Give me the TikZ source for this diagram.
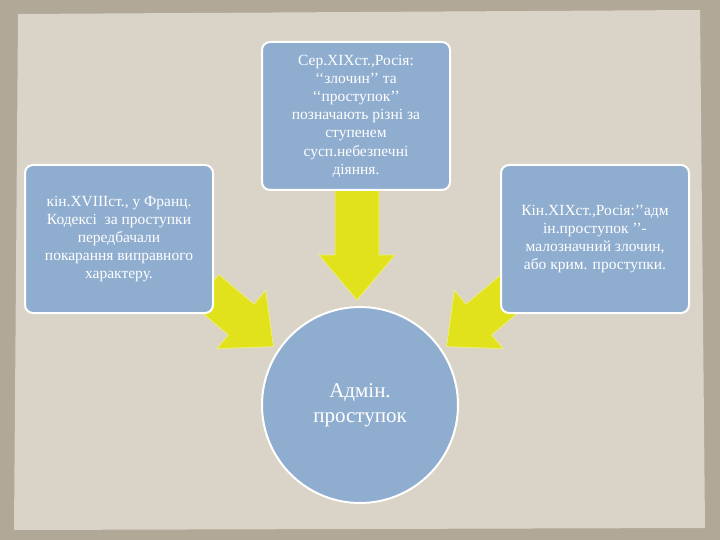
\documentclass[tikz,border=0pt]{standalone}
\usepackage{fontspec}
\setmainfont{Liberation Serif}
\begin{document}
\begin{tikzpicture}[x=1pt,y=-1pt,
  box/.style={draw=white,line width=2pt,fill=boxblue,rounded corners=8pt,minimum width=188pt,minimum height=148pt,align=center,text=white,font=\fontsize{15.5}{18.2}\selectfont,inner sep=2pt},
  yarrow/.style={fill=arrowyellow,draw=arrowyellow!60!white,line width=0.8pt}]
\definecolor{boxblue}{HTML}{8FADCF}
\definecolor{arrowyellow}{HTML}{E1E11C}
\useasboundingbox (0,0) rectangle (720,540);
\fill[color={rgb,255:red,178;green,168;blue,152}] (0,0) rectangle (720,540);
\fill[color={rgb,255:red,218;green,212;blue,200}] (18,14) -- (700,10) -- (705,528) -- (14,530) -- cycle;
\begin{scope}[shift={(357,188)},rotate=-90]
\filldraw[yarrow] (0,-22) -- (67,-22) -- (67,-38) -- (112,0) -- (67,38) -- (67,22) -- (0,22) -- cycle;
\end{scope}
\begin{scope}[shift={(206,290)},rotate=-40]
\filldraw[yarrow] (0,-20) -- (46,-20) -- (46,-38) -- (88,0) -- (46,38) -- (46,20) -- (0,20) -- cycle;
\end{scope}
\begin{scope}[shift={(514,290)},rotate=-140]
\filldraw[yarrow] (0,-20) -- (46,-20) -- (46,-38) -- (88,0) -- (46,38) -- (46,20) -- (0,20) -- cycle;
\end{scope}
\node[box] (top) at (356,116) {Сер.ХІХст.,Росія:\\‘‘злочин’’ та\\‘‘проступок’’\\позначають різні за\\ступенем\\сусп.небезпечні\\діяння.};
\node[box] (left) at (119,239) {кін.XVIIIст., у Франц.\\Кодексі\ \ за проступки\\передбачали\\покарання виправного\\характеру.};
\node[box] (right) at (595,239) {Кін.ХІХст.,Росія:’’адм\\ін.проступок ’’-\\малозначний злочин,\\або крим. проступки.};
\node[circle,draw=white,line width=2pt,fill=boxblue,minimum size=196pt,align=center,text=white,font=\fontsize{21}{25}\selectfont] (adm) at (360,405) {Адмін.\\проступок};
\end{tikzpicture}
\end{document}
